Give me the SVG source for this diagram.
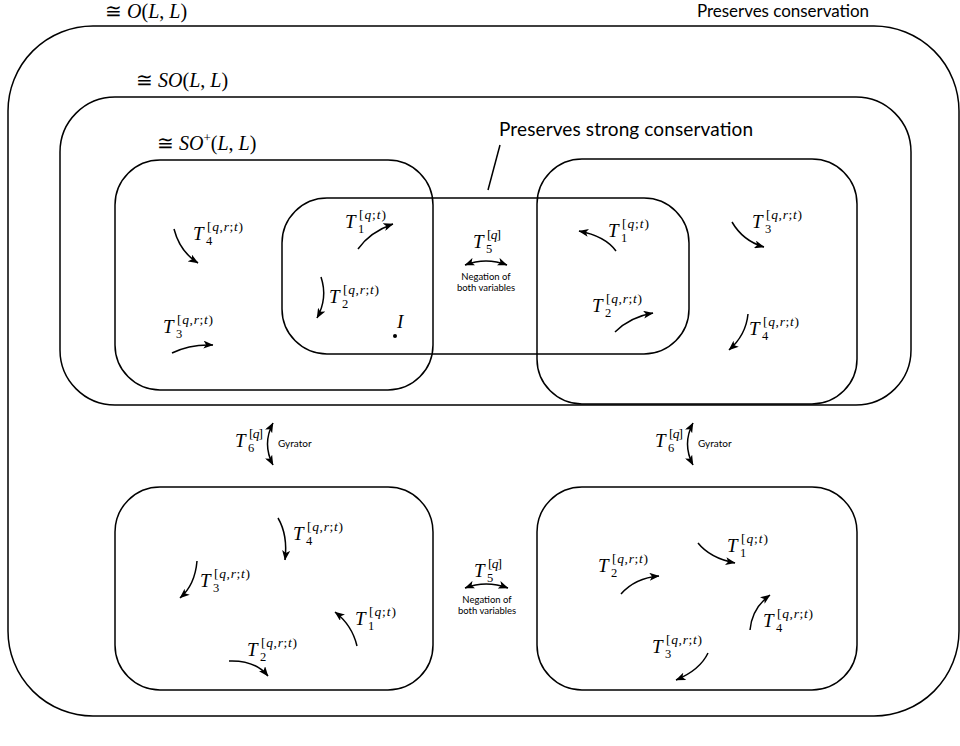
<svg xmlns="http://www.w3.org/2000/svg" width="960" height="746" viewBox="0 0 960 746">
<style>
.box{fill:none;stroke:#000;stroke-width:1.5}
.arr{fill:none;stroke:#000;stroke-width:1.5}
.T{font-family:"Liberation Serif",serif;font-style:italic;font-size:19px}
.sub{font-family:"Liberation Serif",serif;font-size:12.5px}
.sup{font-family:"Liberation Serif",serif;font-size:13.5px}
.i{font-style:italic}
.math{font-family:"Liberation Serif","DejaVu Serif",serif;font-size:20px}
.big{font-family:"Lato","Open Sans",sans-serif}
.small{font-family:"Lato","Open Sans",sans-serif;font-size:9.5px;text-anchor:middle}
.gy{font-family:"Lato","Open Sans",sans-serif;font-size:10px}
</style>
<defs>
<marker id="ah" viewBox="0 0 10 8" refX="9.5" refY="4" markerWidth="10" markerHeight="8" markerUnits="userSpaceOnUse" orient="auto-start-reverse">
<path d="M0,0 L10,4 L0,8 L2.5,4 z" fill="#000"/>
</marker>
</defs>
<rect width="960" height="746" fill="#fff"/>

<g id="outer">
<rect class="box" x="8" y="26" width="951" height="690" rx="85" ry="85"/>
<text class="math" x="105" y="18">≅ <tspan class="i">O</tspan>(<tspan class="i">L</tspan>, <tspan class="i">L</tspan>)</text>
<text class="big" x="697" y="17" font-size="17" textLength="172">Preserves conservation</text>
</g>

<g id="so">
<rect class="box" x="60" y="97" width="851" height="308" rx="55" ry="55"/>
<text class="math" x="136" y="87">≅ <tspan class="i">SO</tspan>(<tspan class="i">L</tspan>, <tspan class="i">L</tspan>)</text>
</g>

<g id="so-plus">
<rect class="box" x="115" y="160" width="318" height="230" rx="45" ry="45"/>
<text class="math" x="157" y="150">≅ <tspan class="i">SO</tspan><tspan font-size="13" dy="-8">+</tspan><tspan dy="8">(</tspan><tspan class="i">L</tspan>, <tspan class="i">L</tspan>)</text>
<text class="T" x="193" y="240">T</text><text class="sub" x="206" y="245">4</text>
<text class="sup" x="207" y="231" textLength="36">[<tspan class="i">q</tspan>,<tspan class="i">r</tspan>;<tspan class="i">t</tspan>)</text>
<text class="T" x="163" y="333">T</text><text class="sub" x="176" y="338">3</text>
<text class="sup" x="177" y="324" textLength="36">[<tspan class="i">q</tspan>,<tspan class="i">r</tspan>;<tspan class="i">t</tspan>)</text>
</g>

<g id="strong">
<rect class="box" x="282" y="198" width="407" height="156" rx="45" ry="45"/>
<text class="big" x="499" y="136" font-size="19" textLength="254">Preserves strong conservation</text>
<text class="T" x="345" y="228">T</text><text class="sub" x="358" y="233">1</text>
<text class="sup" x="359" y="219" textLength="27">[<tspan class="i">q</tspan>;<tspan class="i">t</tspan>)</text>
<text class="T" x="329" y="303">T</text><text class="sub" x="342" y="308">2</text>
<text class="sup" x="343" y="294" textLength="36">[<tspan class="i">q</tspan>,<tspan class="i">r</tspan>;<tspan class="i">t</tspan>)</text>
<text class="T" x="397" y="328">I</text>
<circle cx="395" cy="336" r="2" fill="#000"/>
<text class="T" x="608" y="237">T</text><text class="sub" x="621" y="242">1</text>
<text class="sup" x="622" y="228" textLength="27">[<tspan class="i">q</tspan>;<tspan class="i">t</tspan>)</text>
<text class="T" x="592" y="312">T</text><text class="sub" x="605" y="317">2</text>
<text class="sup" x="606" y="303" textLength="36">[<tspan class="i">q</tspan>,<tspan class="i">r</tspan>;<tspan class="i">t</tspan>)</text>
</g>

<g id="reflect-top">
<rect class="box" x="537" y="159" width="320" height="245" rx="45" ry="45"/>
<text class="T" x="752" y="228">T</text><text class="sub" x="765" y="233">3</text>
<text class="sup" x="766" y="219" textLength="36">[<tspan class="i">q</tspan>,<tspan class="i">r</tspan>;<tspan class="i">t</tspan>)</text>
<text class="T" x="749" y="335">T</text><text class="sub" x="762" y="340">4</text>
<text class="sup" x="763" y="326" textLength="36">[<tspan class="i">q</tspan>,<tspan class="i">r</tspan>;<tspan class="i">t</tspan>)</text>
</g>

<g id="negation-top">
<text class="T" x="473" y="248">T</text><text class="sub" x="486" y="253">5</text>
<text class="sup" x="487" y="239" textLength="14">[<tspan class="i">q</tspan>]</text>
<text class="small" x="486" y="280">Negation of</text>
<text class="small" x="486" y="291">both variables</text>
</g>

<g id="gyrator-left">
<text class="T" x="235" y="447">T</text><text class="sub" x="248" y="452">6</text>
<text class="sup" x="249" y="438" textLength="14">[<tspan class="i">q</tspan>]</text>
<text class="gy" x="278" y="447">Gyrator</text>
</g>
<g id="gyrator-right">
<text class="T" x="655" y="447">T</text><text class="sub" x="668" y="452">6</text>
<text class="sup" x="669" y="438" textLength="14">[<tspan class="i">q</tspan>]</text>
<text class="gy" x="698" y="447">Gyrator</text>
</g>

<g id="bottom-left">
<rect class="box" x="115" y="487" width="318" height="203" rx="45" ry="45"/>
<text class="T" x="293" y="540">T</text><text class="sub" x="306" y="545">4</text>
<text class="sup" x="307" y="531" textLength="36">[<tspan class="i">q</tspan>,<tspan class="i">r</tspan>;<tspan class="i">t</tspan>)</text>
<text class="T" x="200" y="587">T</text><text class="sub" x="213" y="592">3</text>
<text class="sup" x="214" y="578" textLength="36">[<tspan class="i">q</tspan>,<tspan class="i">r</tspan>;<tspan class="i">t</tspan>)</text>
<text class="T" x="355" y="625">T</text><text class="sub" x="368" y="630">1</text>
<text class="sup" x="369" y="616" textLength="27">[<tspan class="i">q</tspan>;<tspan class="i">t</tspan>)</text>
<text class="T" x="247" y="656">T</text><text class="sub" x="260" y="661">2</text>
<text class="sup" x="261" y="647" textLength="36">[<tspan class="i">q</tspan>,<tspan class="i">r</tspan>;<tspan class="i">t</tspan>)</text>
</g>

<g id="negation-bottom">
<text class="T" x="474" y="577">T</text><text class="sub" x="487" y="582">5</text>
<text class="sup" x="488" y="568" textLength="14">[<tspan class="i">q</tspan>]</text>
<text class="small" x="487" y="603">Negation of</text>
<text class="small" x="487" y="614">both variables</text>
</g>

<g id="bottom-right">
<rect class="box" x="537" y="487" width="320" height="203" rx="45" ry="45"/>
<text class="T" x="727" y="552">T</text><text class="sub" x="740" y="557">1</text>
<text class="sup" x="741" y="543" textLength="27">[<tspan class="i">q</tspan>;<tspan class="i">t</tspan>)</text>
<text class="T" x="598" y="572">T</text><text class="sub" x="611" y="577">2</text>
<text class="sup" x="612" y="563" textLength="36">[<tspan class="i">q</tspan>,<tspan class="i">r</tspan>;<tspan class="i">t</tspan>)</text>
<text class="T" x="763" y="627">T</text><text class="sub" x="776" y="632">4</text>
<text class="sup" x="777" y="618" textLength="36">[<tspan class="i">q</tspan>,<tspan class="i">r</tspan>;<tspan class="i">t</tspan>)</text>
<text class="T" x="652" y="653">T</text><text class="sub" x="665" y="658">3</text>
<text class="sup" x="666" y="644" textLength="36">[<tspan class="i">q</tspan>,<tspan class="i">r</tspan>;<tspan class="i">t</tspan>)</text>
</g>

<g id="connectors">
<line class="arr" x1="500" y1="145" x2="488" y2="190"/>
<path class="arr" d="M174,229 Q180,252 198,263" marker-end="url(#ah)"/>
<path class="arr" d="M172,353 Q190,344 213,345" marker-end="url(#ah)"/>
<path class="arr" d="M358,249 Q370,232 393,224" marker-end="url(#ah)"/>
<path class="arr" d="M321,277 Q328,298 317,318" marker-end="url(#ah)"/>
<path class="arr" d="M616,251 Q605,236 579,231" marker-end="url(#ah)"/>
<path class="arr" d="M615,332 Q630,317 653,313" marker-end="url(#ah)"/>
<path class="arr" d="M732,222 Q743,241 764,247" marker-end="url(#ah)"/>
<path class="arr" d="M748,314 Q746,335 729,350" marker-end="url(#ah)"/>
<path class="arr" d="M465,265 Q486,257 507,265" marker-start="url(#ah)" marker-end="url(#ah)"/>
<path class="arr" d="M273,423 Q262,444 273,465" marker-start="url(#ah)" marker-end="url(#ah)"/>
<path class="arr" d="M693,423 Q682,444 693,465" marker-start="url(#ah)" marker-end="url(#ah)"/>
<path class="arr" d="M278,518 Q288,535 285,560" marker-end="url(#ah)"/>
<path class="arr" d="M197,561 Q195,585 180,598" marker-end="url(#ah)"/>
<path class="arr" d="M357,646 Q352,625 335,612" marker-end="url(#ah)"/>
<path class="arr" d="M229,661 Q255,660 268,676" marker-end="url(#ah)"/>
<path class="arr" d="M465,588 Q486,580 508,588" marker-start="url(#ah)" marker-end="url(#ah)"/>
<path class="arr" d="M698,543 Q710,558 735,563" marker-end="url(#ah)"/>
<path class="arr" d="M621,594 Q635,578 659,576" marker-end="url(#ah)"/>
<path class="arr" d="M750,630 Q752,608 770,595" marker-end="url(#ah)"/>
<path class="arr" d="M708,653 Q700,670 676,680" marker-end="url(#ah)"/>
</g>
</svg>
